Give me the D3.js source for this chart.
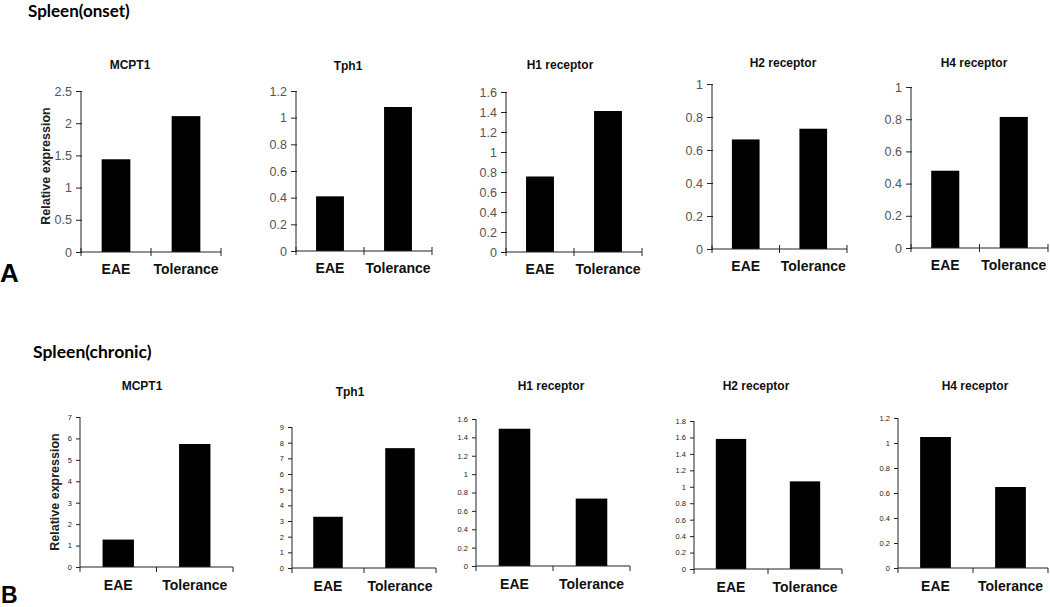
<!DOCTYPE html>
<html>
<head>
<meta charset="utf-8">
<script src="https://cdn.jsdelivr.net/npm/d3@7"></script>
<style>
  body { margin: 0; background: #fff; }
  svg { display: block; font-family: "Liberation Sans", Arial, sans-serif; }
  .axis line, .axis path { stroke: #222; }
</style>
</head>
<body>
<div id="chart"></div>
<script>
const categories = ['EAE', 'Tolerance'];
const genes = ['MCPT1', 'Tph1', 'H1 receptor', 'H2 receptor', 'H4 receptor'];

// Spleen (onset)
const onsetValues = [[1.44, 2.11], [0.41, 1.08], [0.755, 1.41], [0.664, 0.729], [0.48, 0.814]];
const onsetTicks = [
    [0, 0.5, 1, 1.5, 2, 2.5],
    [0, 0.2, 0.4, 0.6, 0.8, 1, 1.2],
    [0, 0.2, 0.4, 0.6, 0.8, 1, 1.2, 1.4, 1.6],
    [0, 0.2, 0.4, 0.6, 0.8, 1],
    [0, 0.2, 0.4, 0.6, 0.8, 1]
];

// Spleen (chronic)
const chronicValues = [[1.28, 5.74], [3.27, 7.65], [1.494, 0.734], [1.582, 1.066], [1.048, 0.648]];
const chronicTicks = [
    [0, 1, 2, 3, 4, 5, 6, 7],
    [0, 1, 2, 3, 4, 5, 6, 7, 8, 9],
    [0, 0.2, 0.4, 0.6, 0.8, 1, 1.2, 1.4, 1.6],
    [0, 0.2, 0.4, 0.6, 0.8, 1, 1.2, 1.4, 1.6, 1.8],
    [0, 0.2, 0.4, 0.6, 0.8, 1, 1.2]
];

// panel frames (pixels)
const onsetFrames = [
    { x0: 81, x1: 221, top: 91, bottom: 252, tx: 130, ty: 65 },
    { x0: 296, x1: 432, top: 91, bottom: 251, tx: 348, ty: 66 },
    { x0: 506, x1: 642, top: 92, bottom: 252, tx: 560, ty: 65 },
    { x0: 712, x1: 847, top: 84, bottom: 249, tx: 783, ty: 63 },
    { x0: 911, x1: 1048, top: 87, bottom: 248, tx: 974, ty: 63 }
];
const chronicFrames = [
    { x0: 80, x1: 233, top: 417, bottom: 567, tx: 142, ty: 386 },
    { x0: 292, x1: 436, top: 427, bottom: 568, tx: 350, ty: 392 },
    { x0: 476, x1: 630, top: 419, bottom: 566, tx: 551, ty: 386 },
    { x0: 694, x1: 842, top: 421, bottom: 569, tx: 756, ty: 386 },
    { x0: 898, x1: 1048, top: 418, bottom: 568, tx: 975, ty: 386 }
];

const w = 1050;
const h = 607;

const svg = d3.select('#chart')
    .append('svg')
    .attr('width', w)
    .attr('height', h);

// st: tick style {font, color, yIn, xUp, xDown, labelDy}
function drawPanel(values, ticks, f, title, st) {
    const xScale = d3.scaleBand()
        .domain(categories)
        .range([f.x0, f.x1])
        .paddingInner(0.59)
        .paddingOuter(0.295);
    const yScale = d3.scaleLinear()
        .domain([0, ticks[ticks.length - 1]])
        .range([f.bottom, f.top]);

    const g = svg.append('g');

    g.selectAll('rect')
        .data(values)
        .enter()
        .append('rect')
        .attr('x', (d, i) => xScale(categories[i]))
        .attr('y', d => yScale(d))
        .attr('width', xScale.bandwidth())
        .attr('height', d => f.bottom - yScale(d))
        .attr('fill', '#000');

    const yAxis = g.append('g')
        .attr('class', 'axis')
        .attr('transform', `translate(${f.x0}, 0)`)
        .call(d3.axisLeft(yScale).tickValues(ticks).tickSize(st.yOut).tickPadding(4).tickFormat(d => String(d)));
    yAxis.select('.domain').attr('d', `M0,${f.bottom}V${f.top}`);
    yAxis.selectAll('.tick line').attr('x1', -st.yOut).attr('x2', st.yIn);
    yAxis.selectAll('.tick text')
        .attr('font-size', st.font)
        .attr('fill', st.color)
        .attr('font-family', '"Liberation Sans", Arial, sans-serif');

    // category axis: boundary ticks, labels under bars
    const xg = g.append('g').attr('class', 'axis');
    xg.append('line')
        .attr('x1', f.x0).attr('x2', f.x1)
        .attr('y1', f.bottom).attr('y2', f.bottom);
    const step = xScale.step();
    xg.selectAll('line.b')
        .data([0, 1, 2])
        .enter()
        .append('line')
        .attr('class', 'b')
        .attr('x1', i => f.x0 + i * step)
        .attr('x2', i => f.x0 + i * step)
        .attr('y1', f.bottom - st.xUp)
        .attr('y2', f.bottom + st.xDown);
    xg.selectAll('text')
        .data(categories)
        .enter()
        .append('text')
        .attr('x', d => xScale(d) + xScale.bandwidth() / 2)
        .attr('y', f.bottom + st.labelDy)
        .attr('text-anchor', 'middle')
        .attr('font-weight', 'bold')
        .attr('font-size', 14)
        .attr('fill', '#111')
        .text(d => d);

    g.append('text')
        .attr('x', f.tx)
        .attr('y', f.ty + 4)
        .attr('text-anchor', 'middle')
        .attr('font-weight', 'bold')
        .attr('font-size', 12)
        .attr('fill', '#111')
        .text(title);
}

const onsetStyle = { font: 12.5, color: '#555', yOut: 5, yIn: 1, xUp: 4, xDown: 4, labelDy: 22 };
const chronicStyle = { font: 7.5, color: '#222', yOut: 4, yIn: 0, xUp: 0, xDown: 5, labelDy: 23 };

genes.forEach((gene, i) => {
    drawPanel(onsetValues[i], onsetTicks[i], onsetFrames[i], gene, onsetStyle);
    drawPanel(chronicValues[i], chronicTicks[i], chronicFrames[i], gene, chronicStyle);
});

// y labels
svg.append('text')
    .attr('transform', 'translate(50, 166) rotate(-90)')
    .attr('text-anchor', 'middle')
    .attr('font-weight', 'bold')
    .attr('font-size', 12.5)
    .attr('fill', '#222')
    .text('Relative expression');
svg.append('text')
    .attr('transform', 'translate(59, 492) rotate(-90)')
    .attr('text-anchor', 'middle')
    .attr('font-weight', 'bold')
    .attr('font-size', 12.5)
    .attr('fill', '#222')
    .text('Relative expression');

// section headings
svg.append('text')
    .attr('x', 28).attr('y', 17)
    .attr('font-family', 'Lato, "Noto Sans", sans-serif')
    .attr('font-weight', 'bold')
    .attr('font-size', 17)
    .text('Spleen(onset)');
svg.append('text')
    .attr('x', 33).attr('y', 358)
    .attr('font-family', 'Lato, "Noto Sans", sans-serif')
    .attr('font-weight', 'bold')
    .attr('font-size', 17.5)
    .text('Spleen(chronic)');

// panel letters
svg.append('text')
    .attr('x', 0).attr('y', 282)
    .attr('font-weight', 'bold')
    .attr('font-size', 26)
    .text('A');
svg.append('text')
    .attr('x', 1).attr('y', 603)
    .attr('font-weight', 'bold')
    .attr('font-size', 23)
    .text('B');
</script>
</body>
</html>
